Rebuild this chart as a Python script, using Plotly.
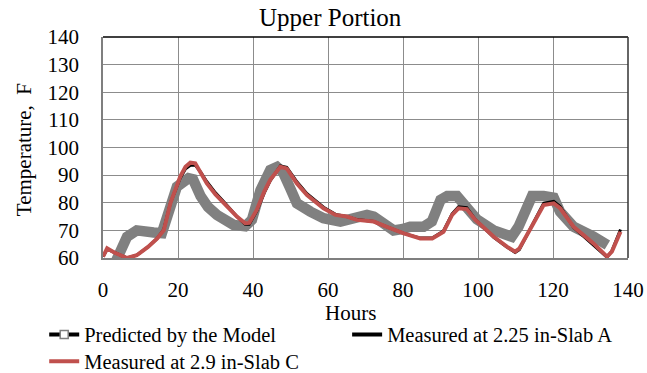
import plotly.graph_objects as go

# Measured at 2.9 in - Slab C (red)
hours_c = [0, 1.1, 3, 6.4, 9, 12, 14.4, 16.2, 18, 20.6, 22, 23.3, 24.6, 26, 27.7, 30, 32.2, 35.7,
           37.9, 39, 41, 43, 44.6, 47.3, 49, 51.7, 54.4, 58.8, 62, 65, 67.7, 72.2, 75.7, 80.2,
           84.6, 87.8, 90.8, 93.1, 94.8, 97, 99.3, 104.2, 107.7, 109.9, 111, 113, 114.8, 117.5,
           120.2, 121.9, 125.5, 130.8, 134.4, 135.7, 138]
temp_c = [60.5, 63.5, 62, 60, 61, 64, 67, 70, 80, 89.5, 93, 94.5, 94.3, 91, 87, 83, 80, 75,
          72.6, 72.7, 77.4, 84, 88.3, 93, 92.4, 87, 82.8, 78, 75.6, 75, 73.8, 73.2, 71.3, 68.9,
          67.1, 67.1, 69.5, 75.6, 78, 77.7, 73.8, 67.7, 64.1, 62.3, 63.4, 68, 72.6, 79.2,
          79.8, 78, 71.3, 65.3, 60.5, 62.3, 69.5]

# Measured at 2.25 in - Slab A (black)
hours_a = hours_c
temp_a = [60.5, 63.2, 62, 60, 61, 64, 67, 70.3, 80, 89, 92.3, 93.6, 93.6, 91.2, 87.6, 83.6, 80.4, 75,
          72.2, 72.2, 77, 83.6, 88, 93.3, 92.8, 87.6, 83.3, 78.4, 75.8, 75, 73.9, 73.2, 71.3, 68.9,
          67.2, 67.2, 69.8, 76, 78.5, 78.2, 73.9, 67.5, 64, 62, 63, 68, 72.8, 79.8,
          80.5, 78.6, 71, 64.8, 60.3, 62.5, 70.3]

# Predicted by the Model (gray)
hours_p = [3.5, 5, 6.4, 9, 11, 13.5, 15.7, 17.5, 19.7, 22.8, 24, 26, 28, 30.4, 32.5, 34.8, 37.9,
           39.7, 42, 44.6, 46.4, 48, 50, 51.7, 55.3, 58.8, 63.3, 67.7, 70.4, 72.2, 75, 77.5, 80,
           81.9, 85.5, 87.7, 90, 91.8, 94.4, 97, 99.7, 104.2, 107.7, 109, 110.8, 112.6, 114.4,
           117.5, 120.2, 121.9, 125.5, 130.8, 134.5]
temp_p = [59, 64, 67.7, 70, 70, 69.2, 69, 77.4, 85.8, 88.9, 88.5, 82.5, 78.5, 75.6, 73.8, 72, 71.5,
          73.8, 84.6, 91.9, 93, 91, 85, 79.8, 76.8, 74.4, 73.2, 75, 75.6, 75, 72.5, 70, 70.5,
          71.3, 71.3, 73.2, 81, 82.4, 82.4, 78.5, 74, 70, 68.9, 67.7, 71.3, 77.4, 82.4,
          82.4, 81.8, 76.7, 71.3, 67.7, 64.7]

x_ticks = [0, 20, 40, 60, 80, 100, 120, 140]
y_ticks = [60, 70, 80, 90, 100, 110, 120, 130, 140]

FONT = "Liberation Serif"
GRAY = "#808080"
RED = "#C0504D"

fig = go.Figure()
fig.add_trace(go.Scatter(x=hours_p, y=temp_p, mode="lines", line=dict(color=GRAY, width=10.5),
                         showlegend=False, hoverinfo="skip"))
fig.add_trace(go.Scatter(x=hours_a, y=temp_a, mode="lines", line=dict(color="black", width=3),
                         showlegend=False))
fig.add_trace(go.Scatter(x=hours_c, y=temp_c, mode="lines", line=dict(color=RED, width=4),
                         showlegend=False))
# legend entries
fig.add_trace(go.Scatter(x=[None], y=[None], mode="lines+markers", name="Predicted by the Model",
                         line=dict(color="black", width=4),
                         marker=dict(symbol="square", size=8, color="white",
                                     line=dict(color=GRAY, width=1.5)),
                         legend="legend"))
fig.add_trace(go.Scatter(x=[None], y=[None], mode="lines", name="Measured at 2.25 in-Slab A",
                         line=dict(color="black", width=4), legend="legend2"))
fig.add_trace(go.Scatter(x=[None], y=[None], mode="lines", name="Measured at 2.9 in-Slab C",
                         line=dict(color=RED, width=4), legend="legend3"))

legend_common = dict(orientation="h", xanchor="left", yanchor="top",
                     font=dict(family=FONT, size=20.5, color="black"),
                     bgcolor="rgba(0,0,0,0)",
                     itemclick=False, itemdoubleclick=False)

fig.update_layout(
    width=647, height=373,
    margin=dict(l=103, r=19, t=37, b=115, autoexpand=False),
    paper_bgcolor="white", plot_bgcolor="white",
    font=dict(family=FONT, size=21, color="black"),
    showlegend=True,
    legend=dict(x=-0.112, y=-0.256, **legend_common),
    legend2=dict(x=0.465, y=-0.256, **legend_common),
    legend3=dict(x=-0.112, y=-0.378, **legend_common),
    xaxis=dict(range=[0, 140], tickvals=x_ticks, showgrid=True, gridcolor="#8c8c8c", gridwidth=1.3,
               showline=True, linecolor="#7f7f7f", linewidth=1.5, zeroline=False,
               ticks="", ticklabelstandoff=12, tickfont=dict(family=FONT, size=21)),
    yaxis=dict(range=[60, 140], tickvals=y_ticks, showgrid=True, gridcolor="#8c8c8c", gridwidth=1.3,
               showline=True, linecolor="#7f7f7f", linewidth=1.5, zeroline=False,
               ticks="", ticklabelstandoff=18, tickfont=dict(family=FONT, size=21)),
    annotations=[
        dict(text="Upper Portion", xref="paper", yref="paper", x=0.433, y=1.087,
             showarrow=False, font=dict(family=FONT, size=25), xanchor="center", yanchor="middle"),
        dict(text="Hours", xref="paper", yref="paper", x=0.471, y=-0.25,
             showarrow=False, font=dict(family=FONT, size=21), xanchor="center", yanchor="middle"),
        dict(text="Temperature,  F", xref="paper", yref="paper", x=-0.15, y=0.489, textangle=-90,
             showarrow=False, font=dict(family=FONT, size=21), xanchor="center", yanchor="middle"),
    ],
    shapes=[
        dict(type="line", xref="paper", yref="paper", x0=0, x1=1, y0=1, y1=1,
             line=dict(color="black", width=1.5)),
        dict(type="line", xref="paper", yref="paper", x0=1, x1=1, y0=0, y1=1,
             line=dict(color="#333333", width=1.5)),
    ],
)

fig.write_html("out.html")
